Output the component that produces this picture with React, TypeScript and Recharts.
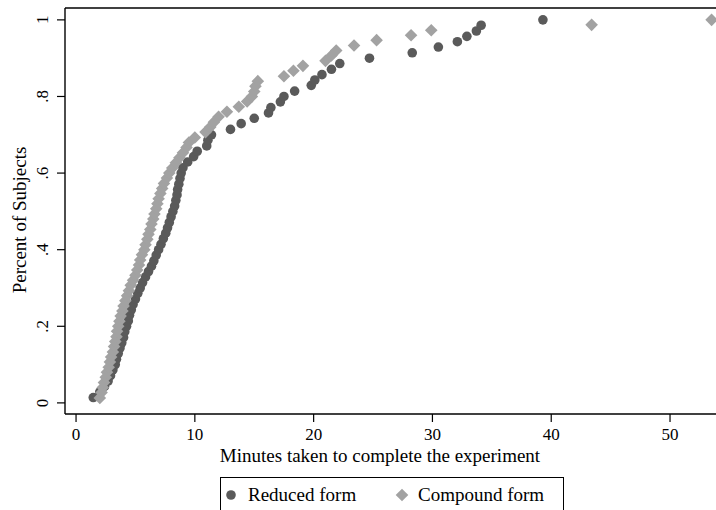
import React from 'react';
import { ScatterChart, Scatter, XAxis, YAxis, ReferenceLine } from 'recharts';

// minutes to finish (sorted), with the cumulative share of subjects
const reducedMinutes = [
  1.45, 2.0, 2.4, 2.7, 2.9, 3.1, 3.3, 3.4, 3.55, 3.7,
  3.85, 4.0, 4.1, 4.25, 4.4, 4.5, 4.65, 4.8, 5.0, 5.2,
  5.4, 5.6, 5.85, 6.1, 6.35, 6.55, 6.75, 6.95, 7.15, 7.35,
  7.55, 7.7, 7.85, 8.0, 8.15, 8.3, 8.4, 8.5, 8.55, 8.65,
  8.75, 8.85, 9.0, 9.4, 9.9, 10.2, 11.0, 11.1, 11.4, 13.0,
  13.9, 15.0, 16.2, 16.4, 17.2, 17.5, 18.4, 19.8, 20.1, 20.7,
  21.5, 22.2, 24.7, 28.3, 30.5, 32.1, 32.9, 33.7, 34.1, 39.3,
];
const reducedShare = [
  0.014, 0.029, 0.043, 0.057, 0.071, 0.086, 0.1, 0.114, 0.129, 0.143,
  0.157, 0.171, 0.186, 0.2, 0.214, 0.229, 0.243, 0.257, 0.271, 0.286,
  0.3, 0.314, 0.329, 0.343, 0.357, 0.371, 0.386, 0.4, 0.414, 0.429,
  0.443, 0.457, 0.471, 0.486, 0.5, 0.514, 0.529, 0.543, 0.557, 0.571,
  0.586, 0.6, 0.614, 0.629, 0.643, 0.657, 0.671, 0.686, 0.7, 0.714,
  0.729, 0.743, 0.757, 0.771, 0.786, 0.8, 0.814, 0.829, 0.843, 0.857,
  0.871, 0.886, 0.9, 0.914, 0.929, 0.943, 0.957, 0.971, 0.986, 1.0,
];
const compoundMinutes = [
  2.0, 2.15, 2.25, 2.35, 2.5, 2.6, 2.75, 2.85, 2.95, 3.1,
  3.2, 3.3, 3.4, 3.45, 3.55, 3.65, 3.75, 3.9, 4.0, 4.15,
  4.3, 4.45, 4.6, 4.8, 5.0, 5.15, 5.3, 5.4, 5.55, 5.75,
  5.85, 6.0, 6.1, 6.25, 6.35, 6.5, 6.6, 6.75, 6.85, 6.95,
  7.1, 7.25, 7.4, 7.65, 7.85, 8.1, 8.4, 8.7, 9.0, 9.3,
  9.5, 10.0, 10.9, 11.3, 11.6, 12.0, 12.7, 13.7, 14.4, 14.8,
  15.0, 15.1, 15.3, 17.5, 18.3, 19.1, 21.0, 21.5, 21.9, 23.4,
  25.3, 28.2, 29.9, 43.4, 53.5,
];
const compoundShare = [
  0.013, 0.027, 0.04, 0.053, 0.067, 0.08, 0.093, 0.107, 0.12, 0.133,
  0.147, 0.16, 0.173, 0.187, 0.2, 0.213, 0.227, 0.24, 0.253, 0.267,
  0.28, 0.293, 0.307, 0.32, 0.333, 0.347, 0.36, 0.373, 0.387, 0.4,
  0.413, 0.427, 0.44, 0.453, 0.467, 0.48, 0.493, 0.507, 0.52, 0.533,
  0.547, 0.56, 0.573, 0.587, 0.6, 0.613, 0.627, 0.64, 0.653, 0.667,
  0.68, 0.693, 0.707, 0.72, 0.733, 0.747, 0.76, 0.773, 0.787, 0.8,
  0.813, 0.827, 0.84, 0.853, 0.867, 0.88, 0.893, 0.907, 0.92, 0.933,
  0.947, 0.96, 0.973, 0.987, 1.0,
];

const xTicks = [0, 10, 20, 30, 40, 50];
const yTicks = [0, 0.2, 0.4, 0.6, 0.8, 1];
const yTickLabels = ['0', '.2', '.4', '.6', '.8', '1'];

const X_DOMAIN: [number, number] = [-0.93, 53.87];
const Y_DOMAIN: [number, number] = [-0.029, 1.031];

const FONT = '"Liberation Serif", "DejaVu Serif", serif';
const DARK = '#5a5a5a';
const LIGHT = '#a2a2a2';

const reduced = reducedMinutes.map((m, i) => ({ x: m, y: reducedShare[i] }));
const compound = compoundMinutes.map((m, i) => ({ x: m, y: compoundShare[i] }));

const Dot = (p: any) => <circle cx={p.cx} cy={p.cy} r={4.8} fill={DARK} />;
const Diamond = (p: any) => {
  const s = 6.3;
  return (
    <polygon
      points={`${p.cx},${p.cy - s} ${p.cx + s},${p.cy} ${p.cx},${p.cy + s} ${p.cx - s},${p.cy}`}
      fill={LIGHT}
    />
  );
};

function XTick(props: any) {
  const { x, y, payload } = props;
  return (
    <text x={x} y={y + 16} textAnchor="middle" fontSize={17} fontFamily={FONT} fill="#000">
      {payload.value}
    </text>
  );
}

function YTick(props: any) {
  const { x, y, payload } = props;
  const label = yTickLabels[yTicks.indexOf(payload.value)];
  return (
    <text
      transform={`translate(${x - 7},${y}) rotate(-90)`}
      textAnchor="middle"
      fontSize={17}
      fontFamily={FONT}
      fill="#000"
    >
      {label}
    </text>
  );
}

export default function App() {
  return (
    <div style={{ position: 'absolute', left: 0, top: 0, width: 716, height: 510, background: '#fff' }}>
      <ScatterChart width={716} height={510} margin={{ top: 8, right: 0, bottom: 0, left: 0 }}>
        <XAxis
          type="number"
          dataKey="x"
          domain={X_DOMAIN}
          ticks={xTicks}
          allowDataOverflow
          height={96}
          tickSize={8}
          tick={<XTick />}
          axisLine={{ stroke: '#000', strokeWidth: 1.4 }}
          tickLine={{ stroke: '#000', strokeWidth: 1.2 }}
        />
        <YAxis
          type="number"
          dataKey="y"
          domain={Y_DOMAIN}
          ticks={yTicks}
          allowDataOverflow
          width={65}
          tickSize={8}
          tick={<YTick />}
          axisLine={{ stroke: '#000', strokeWidth: 1.4 }}
          tickLine={{ stroke: '#000', strokeWidth: 1.2 }}
        />
        <ReferenceLine y={Y_DOMAIN[1]} stroke="#000" strokeWidth={1.4} />
        <Scatter data={reduced} shape={Dot} isAnimationActive={false} />
        <Scatter data={compound} shape={Diamond} isAnimationActive={false} />
      </ScatterChart>
      <svg
        width={716}
        height={510}
        style={{ position: 'absolute', left: 0, top: 0, pointerEvents: 'none' }}
        fontFamily={FONT}
        fontSize={19}
      >
        <text x={380} y={462} textAnchor="middle" fill="#000">
          Minutes taken to complete the experiment
        </text>
        <text transform="translate(26,220) rotate(-90)" textAnchor="middle" fill="#000">
          Percent of Subjects
        </text>
        <rect x={220.5} y={477.5} width={343} height={40} fill="none" stroke="#000" strokeWidth={1} />
        <circle cx={231} cy={495} r={4.8} fill={DARK} />
        <text x={248} y={501} fill="#000">Reduced form</text>
        <polygon points="402,488.7 408.3,495 402,501.3 395.7,495" fill={LIGHT} />
        <text x={418} y={501} fill="#000">Compound form</text>
      </svg>
    </div>
  );
}
